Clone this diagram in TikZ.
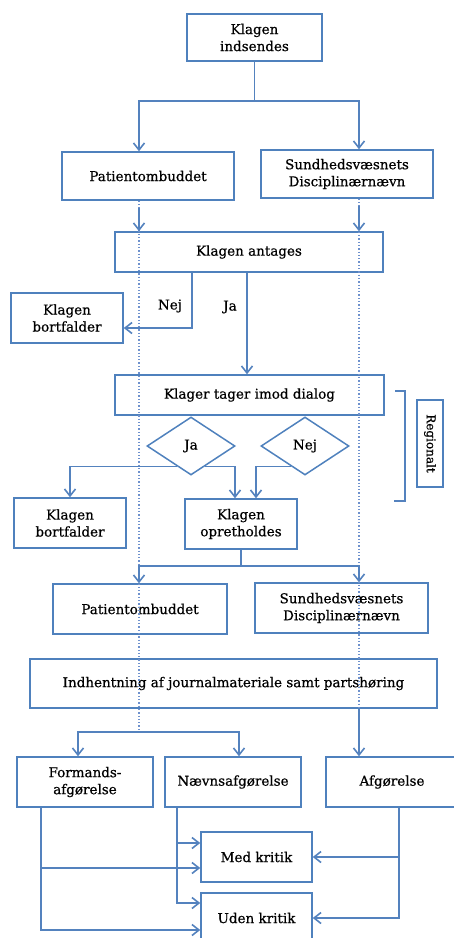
\documentclass[tikz,border=0pt]{standalone}
\usepackage{fontspec}
\setmainfont{DejaVu Serif}[FakeBold=0.6]
\usepackage{tikz}
\usetikzlibrary{arrows.meta,shapes.geometric}
\definecolor{boxblue}{RGB}{79,129,189}
\definecolor{lineblue}{RGB}{84,130,190}
\definecolor{dotblue}{RGB}{110,145,205}

\begin{document}
\begin{tikzpicture}[x=1pt,y=-1pt,
  box/.style 2 args={draw=boxblue,line width=1.5pt,align=center,inner sep=0pt,
    minimum width=#1pt,minimum height=#2pt,font=\fontsize{13.5}{17}\selectfont},
  dia/.style={box={88}{58},diamond},
  lbl/.style={font=\fontsize{13.5}{17}\selectfont},
  conn/.style={draw=lineblue,line width=1.6pt},
  arr/.style={conn,-{Straight Barb[length=7pt,width=11pt]}},
  guide/.style={dotblue,line width=1.3pt,dotted}]
  \useasboundingbox (0,0) rectangle (454,938);
  \clip (0,0) rectangle (454,938);
  % boxes
  \node[box={135}{47}]  (indsendes) at (254.5,37.5) {Klagen\\indsendes};
  \node[box={172}{48}]  (pat1)      at (148,176)    {Patientombuddet};
  \node[box={172}{48}]  (sd1)       at (347,174)    {Sundhedsvæsnets\\Disciplinærnævn};
  \node[box={268}{40}]  (antages)   at (249,252)    {Klagen antages};
  \node[box={112}{50}]  (bort1)     at (67,318)     {Klagen\\bortfalder};
  \node[box={269}{40}]  (dialog)    at (249.5,395)  {Klager tager imod dialog};
  \node[dia]            (ja)        at (191,446)    {Ja};
  \node[dia]            (nej)       at (305,446)    {Nej};
  \node[box={87}{26},rotate=-90] (region) at (430,443.5) {\fontsize{12}{12}\selectfont Regionalt};
  \node[box={112}{50}]  (bort2)     at (70,523)     {Klagen\\bortfalder};
  \node[box={112}{50}]  (opret)     at (241,524)    {Klagen\\opretholdes};
  \node[box={174}{50}]  (pat2)      at (140,609)    {Patientombuddet};
  \node[box={173}{50}]  (sd2)       at (341.5,608)  {Sundhedsvæsnets\\Disciplinærnævn};
  \node[box={407}{49}]  (indh)      at (233.5,683.5) {Indhentning af journalmateriale samt partshøring};
  \node[box={136}{50}]  (formand)   at (85,782)     {Formands-\\afgørelse};
  \node[box={136}{50}]  (naevn)     at (233,782)    {Nævnsafgørelse};
  \node[box={132}{50}]  (afg)       at (392,782)    {Afgørelse};
  \node[box={111}{50}]  (med)       at (256.5,857)  {Med kritik};
  \node[box={111}{50}]  (uden)      at (256.5,918)  {Uden kritik};
  % dotted guides
  \coordinate (pl) at (139,732);
  \coordinate (sl) at (359,0);
  \draw[guide] (pl |- pat1.south) -- (pl);
  \draw[guide] (sl |- sd1.south) -- (sl |- indh.south);
  % connectors
  \draw[conn] (indsendes.south) -- ++(0,39) coordinate (top);
  \draw[arr] (top) -| (pl |- pat1.north);
  \draw[arr] (top) -| (sl |- sd1.north);
  \draw[arr,shorten <=7pt] (pl |- pat1.south) -- (pl |- antages.north);
  \draw[arr,shorten <=7pt] (sl |- sd1.south) -- (sl |- antages.north);
  \coordinate (nejc) at (192,328);
  \draw[arr] (nejc |- antages.south) -- (nejc) -- (nejc -| bort1.east);
  \node[lbl] (nejlbl) at (170,306) {Nej};
  \coordinate (jac) at (247,0);
  \draw[arr] (jac |- antages.south) -- (jac |- dialog.north);
  \node[lbl] (jalbl) at (230,307) {Ja};
  \draw[arr] (ja.235) -| (bort2.north);
  \draw[arr] (ja.305) -| ([xshift=-6pt]opret.north);
  \draw[arr] (nej.235) -| ([xshift=15pt]opret.north);
  \draw[conn] (opret.south) -- ++(0,16) coordinate (mid);
  \draw[arr] (mid) -| (pl |- pat2.north);
  \draw[arr] (mid) -| (sl |- sd2.north);
  \draw[arr] (pl) -| ([xshift=-7pt]formand.north);
  \draw[arr] (pl) -| ([xshift=6pt]naevn.north);
  \draw[arr] (sl |- indh.south) -- (sl |- afg.north);
  \foreach \src/\dx/\ma/\ua in {formand/25/-11/-12,naevn/13/14/15}
    {\draw[arr] ([xshift=\dx pt]\src.south west) |- ([yshift=\ma pt]med.west);
     \draw[arr] ([xshift=\dx pt]\src.south west) |- ([yshift=\ua pt]uden.west);}
  \foreach \dst in {med,uden}
    {\draw[arr] ([xshift=74pt]afg.south west) |- (\dst.east);}
  % bracket
  \draw[conn] (395,391) -- (405,391) -- (405,501) -- (394,501);
\end{tikzpicture}
\end{document}
